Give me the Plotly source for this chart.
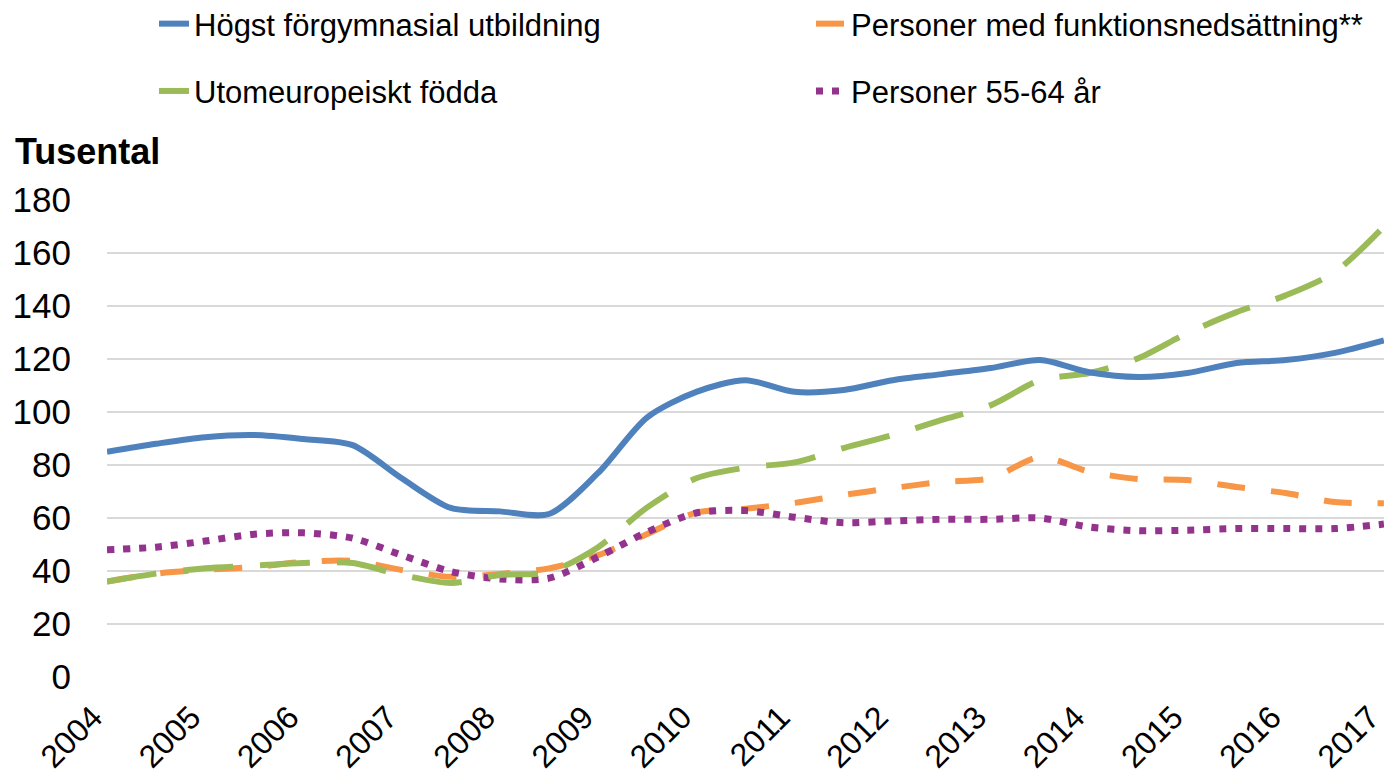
import plotly.graph_objects as go

# Half-year points from 2004 to 2017
x_vals = [2004 + 0.5 * i for i in range(27)]
years = list(range(2004, 2018))

hogst = [85, 88, 90.5, 91.3, 89.8, 87.5, 75, 63.8, 62.5, 61.5, 77, 98, 107.6, 112,
         107.6, 108.3, 112, 114.3, 116.6, 119.6, 115, 113.2, 114.7, 118.5, 119.6, 122.3, 127]
funktion = [36, 39, 40.5, 41.5, 43.4, 43.8, 40.4, 37.8, 38.9, 41, 46, 54, 62, 63.5,
            65.7, 68.7, 71.3, 73.6, 75, 83, 77.5, 74.7, 74.3, 71.7, 69.4, 66, 65.6]
utomeuropeiskt = [36, 39, 41, 42, 43, 43, 38.5, 35.5, 38.5, 39.6, 49, 64, 75, 79,
                  81, 86.4, 91.3, 97, 102.6, 112, 114.7, 120.3, 129.8, 137.7, 144, 152.8, 170]
p5564 = [48, 49, 51.3, 53.9, 54.4, 52.4, 46, 39.8, 37, 37.3, 45.3, 54.7, 61.9, 62.8,
         60.3, 58.2, 58.9, 59.5, 59.5, 60, 56.6, 55.2, 55.4, 56, 56, 56, 57.7]

names = ["Högst förgymnasial utbildning", "Personer med funktionsnedsättning**",
         "Utomeuropeiskt födda", "Personer 55-64 år"]
y_tick_vals = [0, 20, 40, 60, 80, 100, 120, 140, 160, 180]

FONT = "Liberation Sans, Arial, sans-serif"

FIG_W, FIG_H = 1384, 782
PLOT_L, PLOT_R, PLOT_T, PLOT_B = 107, 1384, 200, 677
PLOT_W, PLOT_H = PLOT_R - PLOT_L, PLOT_B - PLOT_T


def px_x(px):
    return (px - PLOT_L) / PLOT_W


def px_y(px):
    return 1 + (PLOT_T - px) / PLOT_H


fig = go.Figure()
fig.add_trace(go.Scatter(x=x_vals, y=funktion, name=names[1], mode="lines",
                         line=dict(color="#F79646", width=6, dash="28px,26px", shape="spline", smoothing=0.8),
                         legend="legend2", legendgroup="b", legendrank=1))
fig.add_trace(go.Scatter(x=x_vals, y=p5564, name=names[3], mode="lines",
                         line=dict(color="#93338E", width=7, dash="7px,9px", shape="spline", smoothing=0.8),
                         legend="legend2", legendgroup="d", legendrank=2))
fig.add_trace(go.Scatter(x=x_vals, y=utomeuropeiskt, name=names[2], mode="lines",
                         line=dict(color="#9BBB59", width=6, dash="50px,27px", shape="spline", smoothing=0.8),
                         legend="legend", legendgroup="c", legendrank=2))
fig.add_trace(go.Scatter(x=x_vals, y=hogst, name=names[0], mode="lines",
                         line=dict(color="#4F81BD", width=6, shape="spline", smoothing=0.8),
                         legend="legend", legendgroup="a", legendrank=1))

legend_top = -3

legend_common = dict(orientation="v", xref="paper", yref="paper",
                     xanchor="left", yanchor="top", font=dict(family=FONT, size=31, color="#000"),
                     bgcolor="rgba(0,0,0,0)", tracegroupgap=24, itemwidth=30, traceorder="grouped")

fig.update_layout(
    width=FIG_W, height=FIG_H,
    margin=dict(l=PLOT_L, r=FIG_W - PLOT_R, t=PLOT_T, b=FIG_H - PLOT_B, autoexpand=False),
    paper_bgcolor="white", plot_bgcolor="white",
    font=dict(family=FONT, color="#000"),
    legend=dict(x=px_x(154), y=px_y(legend_top), **legend_common),
    legend2=dict(x=px_x(811), y=px_y(legend_top), **legend_common),
    xaxis=dict(range=[2004, 2017.001], tickvals=years, ticktext=[str(y) for y in years],
               tickangle=-45, tickfont=dict(family=FONT, size=32, color="#000"),
               ticklabeloverflow="allow", ticklabelshift=-14,
               showgrid=False, zeroline=False, showline=False, ticks="", ticklabelstandoff=14),
    yaxis=dict(range=[0, 180], tickvals=y_tick_vals, tickfont=dict(family=FONT, size=35, color="#000"),
               showgrid=True, gridcolor="#D9D9D9", gridwidth=1.5, zeroline=False,
               showline=False, ticks="", ticklabelstandoff=35),
    annotations=[dict(text="<b>Tusental</b>", xref="paper", yref="paper", x=0, y=1,
                      xanchor="left", yanchor="bottom", xshift=-(PLOT_L - 13), yshift=26,
                      showarrow=False, font=dict(family=FONT, size=36, color="#000"))],
)

fig.write_html("out.html", config={"displayModeBar": False},
               post_script="document.body.style.margin='0';document.body.style.overflow='hidden';"
                           "document.documentElement.style.overflow='hidden';")
